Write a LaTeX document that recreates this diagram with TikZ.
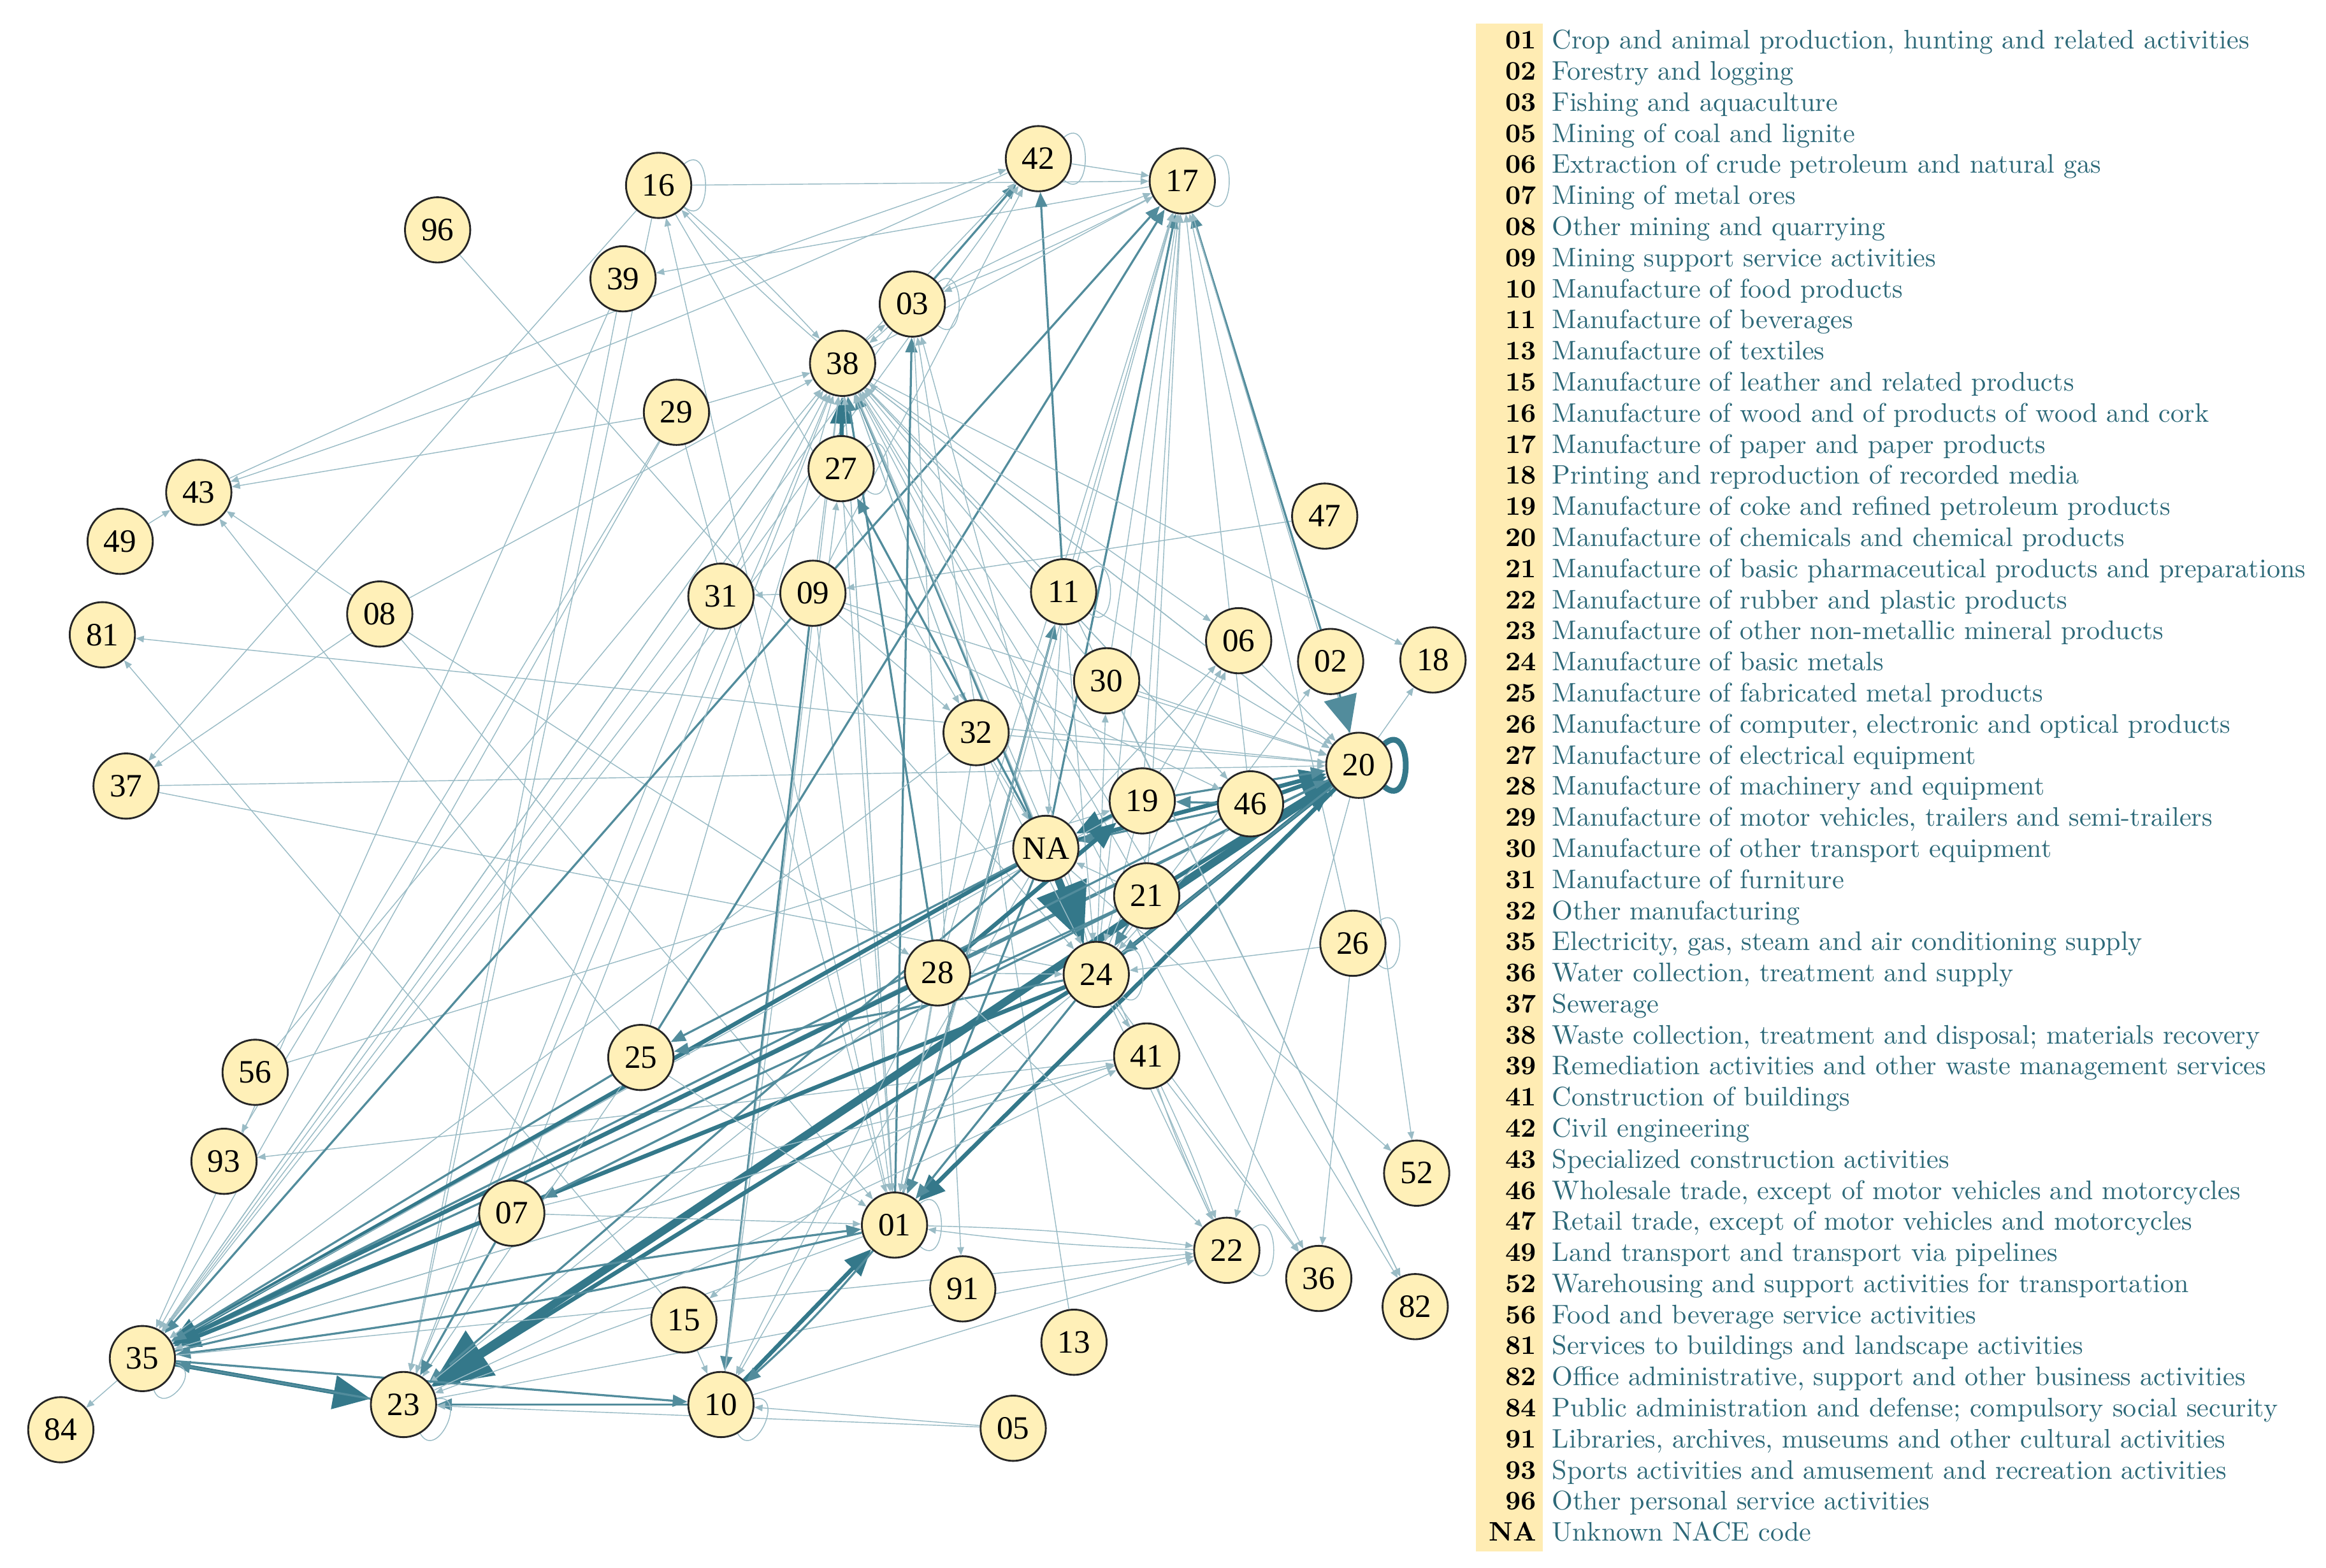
\documentclass[tikz,border=0pt]{standalone}
\usepackage{fontspec}
\newfontfamily\nodefont{Liberation Serif}
\usepackage{tikz}
\usetikzlibrary{positioning,arrows.meta,backgrounds}
\usepackage{xcolor}
\definecolor{nacefill}{RGB}{255,240,184}
\definecolor{stripe}{RGB}{255,236,179}
\definecolor{flow}{RGB}{52,120,138}
\definecolor{legtext}{RGB}{44,104,120}

\begin{document}
\begin{tikzpicture}[x=0.2mm,y=-0.2mm,
        nace/.style={circle,draw=black!85,line width=0.7pt,fill=nacefill,minimum size=8.8mm,inner sep=0pt,font=\nodefont\fontsize{12.5}{13}\selectfont},
        e1/.style={draw=flow!50,line width=0.35pt,-{Triangle[length=1.1mm,width=0.9mm]}},
        e2/.style={draw=flow!85,line width=0.8pt,-{Triangle[length=2mm,width=1.6mm]}},
        e3/.style={draw=flow,line width=1.6pt,-{Triangle[length=3.6mm,width=3mm]}},
        e4/.style={draw=flow,line width=3pt,-{Triangle[length=8mm,width=7mm]}},
        bigtip/.style={-{Triangle[length=5mm,width=4.5mm]}},
        ring/.style={draw=flow!50,line width=0.35pt,out=40,in=-40,looseness=2.2},
        code/.style={anchor=base east,inner sep=0pt,font=\fontsize{10.3}{12}\selectfont\bfseries,text=black},
        label/.style={anchor=base west,inner sep=0pt,font=\fontsize{10.3}{12}\selectfont,text=legtext}]
        \useasboundingbox (0,0) rectangle (1568,1057);

        \node [nace] (16) at (444,125) {16};
        \node [nace] (96) at (295,155) {96};
        \node [nace] (39) at (420,188) {39};
        \node [nace] (42) at (700,107) {42};
        \node [nace] (17) at (797,122) {17};
        \node [nace] (03) at (615,205) {03};
        \node [nace] (38) at (568,245) {38};
        \node [nace] (29) at (456,278) {29};
        \node [nace] (27) at (567,316) {27};
        \node [nace] (43) at (134,332) {43};
        \node [nace] (49) at (81,365) {49};
        \node [nace] (47) at (893,348) {47};
        \node [nace] (08) at (256,414) {08};
        \node [nace] (81) at (69,428) {81};
        \node [nace] (31) at (486,402) {31};
        \node [nace] (09) at (548,400) {09};
        \node [nace] (11) at (717,399) {11};
        \node [nace] (06) at (835,432) {06};
        \node [nace] (02) at (897,446) {02};
        \node [nace] (18) at (966,445) {18};
        \node [nace] (30) at (746,459) {30};
        \node [nace] (32) at (658,494) {32};
        \node [nace] (20) at (916,516) {20};
        \node [nace] (37) at (85,530) {37};
        \node [nace] (19) at (770,540) {19};
        \node [nace] (46) at (843,542) {46};
        \node [nace] (NA) at (705,572) {NA};
        \node [nace] (21) at (773,604) {21};
        \node [nace] (26) at (912,636) {26};
        \node [nace] (28) at (632,656) {28};
        \node [nace] (24) at (739,657) {24};
        \node [nace] (25) at (432,713) {25};
        \node [nace] (41) at (773,712) {41};
        \node [nace] (56) at (172,723) {56};
        \node [nace] (93) at (151,783) {93};
        \node [nace] (52) at (955,791) {52};
        \node [nace] (07) at (345,818) {07};
        \node [nace] (01) at (603,826) {01};
        \node [nace] (22) at (827,843) {22};
        \node [nace] (36) at (889,862) {36};
        \node [nace] (91) at (649,869) {91};
        \node [nace] (82) at (954,881) {82};
        \node [nace] (15) at (461,890) {15};
        \node [nace] (13) at (724,905) {13};
        \node [nace] (35) at (96,916) {35};
        \node [nace] (23) at (272,947) {23};
        \node [nace] (10) at (486,947) {10};
        \node [nace] (05) at (683,963) {05};
        \node [nace] (84) at (41,964) {84};

        \begin{scope}[on background layer]
        \draw[e1] (16) -- (17);
        \draw[e1] (42) -- (17);
        \draw[e1] (42) to[bend left=3] (43);
        \draw[e1] (43) to[bend left=3] (42);
        \draw[e1] (17) -- (39);
        \draw[e1] (29) -- (43);
        \draw[e1] (49) -- (43);
        \draw[e1] (08) -- (43);
        \draw[e1] (25) -- (43);
        \draw[e1] (16) -- (37);
        \draw[e1] (08) -- (37);
        \draw[e1] (37) -- (20);
        \draw[e1] (37) -- (24);
        \draw[e1] (20) -- (81);
        \draw[e1] (15) -- (81);
        \draw[e1] (08) -- (38);
        \draw[e1] (08) -- (28);
        \draw[e1] (08) -- (01);
        \draw[e1] (96) -- (24);
        \draw[e1] (56) -- (38);
        \draw[e1] (56) -- (19);
        \draw[e1] (41) -- (93);
        \draw[e1] (29) -- (93);
        \draw[e1] (16) -- (23);
        \draw[e1] (39) -- (23);
        \draw[e1] (01) -- (16);
        \draw[e1] (38) to[bend left=3] (16);
        \draw[e1] (16) to[bend left=3] (38);
        \draw[e1] (16) -- (32);
        \draw[e1] (29) -- (38);
        \draw[e1] (29) -- (35);
        \draw[e1] (29) -- (01);
        \draw[e1] (47) -- (09);
        \draw[e1] (09) -- (31);
        \draw[e1] (31) -- (38);
        \draw[e1] (31) -- (35);
        \draw[e1] (31) -- (23);
        \draw[e1] (39) -- (35);
        \draw[e1] (38) -- (35);
        \draw[e1] (27) -- (35);
        \draw[e2] (09) -- (35);
        \draw[e2] (09) -- (10);
        \draw[e2] (09) -- (17);
        \draw[e1] (09) -- (42);
        \draw[e1] (09) -- (38);
        \draw[e1] (09) -- (32);
        \draw[e1] (09) -- (01);
        \draw[e1] (09) -- (20);
        \draw[e2] (11) -- (42);
        \draw[e2] (03) -- (42);
        \draw[e1] (38) -- (42);
        \draw[e1] (31) -- (42);
        \draw[e1] (03) to[bend left=3] (17);
        \draw[e1] (17) to[bend left=3] (03);
        \draw[e1] (38) -- (17);
        \draw[e2] (02) -- (17);
        \draw[e2] (25) -- (17);
        \draw[e2] (NA) -- (17);
        \draw[e1] (24) -- (17);
        \draw[e1] (01) -- (17);
        \draw[e1] (28) -- (17);
        \draw[e1] (19) -- (17);
        \draw[e1] (21) -- (17);
        \draw[e1] (30) -- (17);
        \draw[e1] (20) -- (17);
        \draw[e1] (26) -- (17);
        \draw[e1] (11) -- (17);
        \draw[e1] (46) -- (17);
        \draw[e3] (27) -- (38);
        \draw[e2] (24) -- (38);
        \draw[e2] (28) -- (38);
        \draw[e1] (01) -- (38);
        \draw[e1] (10) -- (38);
        \draw[e1] (25) -- (38);
        \draw[e1] (23) -- (38);
        \draw[e1] (35) -- (38);
        \draw[e1] (19) -- (38);
        \draw[e1] (21) -- (38);
        \draw[e1] (46) -- (38);
        \draw[e1] (20) -- (38);
        \draw[e1] (32) -- (38);
        \draw[e1] (11) -- (38);
        \draw[e1] (30) -- (38);
        \draw[e1] (07) -- (38);
        \draw[e1] (22) -- (38);
        \draw[e1] (NA) -- (38);
        \draw[e1] (38) to[bend left=3] (03);
        \draw[e1] (03) to[bend left=3] (38);
        \draw[e1] (38) -- (06);
        \draw[e1] (38) -- (18);
        \draw[e1] (38) -- (82);
        \draw[e1] (38) -- (36);
        \draw[e1] (38) -- (32);
        \draw[e1] (38) -- (46);
        \draw[e1] (38) -- (20);
        \draw[e1] (38) -- (01);
        \draw[e2] (01) -- (03);
        \draw[e1] (13) -- (03);
        \draw[e1] (24) -- (03);
        \draw[e1] (03) -- (91);
        \draw[e1] (03) -- (35);
        \draw[e2] (NA) -- (27);
        \draw[e1] (27) -- (01);
        \draw[e1] (10) -- (27);
        \draw[e2,bigtip] (02) -- (20);
        \draw[e3] (24) -- (20);
        \draw[e3] (46) -- (20);
        \draw[e3] (21) -- (20);
        \draw[e3] (NA) -- (20);
        \draw[e2] (28) -- (20);
        \draw[e2] (19) -- (20);
        \draw[e1] (01) -- (20);
        \draw[e1] (23) -- (20);
        \draw[e1] (32) -- (20);
        \draw[e1] (11) -- (20);
        \draw[e1] (06) -- (20);
        \draw[e1] (30) -- (20);
        \draw[e1] (20) -- (18);
        \draw[e1] (20) -- (22);
        \draw[e1] (20) -- (52);
        \draw[e4] (20) -- (23);
        \draw[e3] (20) -- (01);
        \draw[e2] (20) -- (24);
        \draw[e2] (20) -- (35);
        \draw[e1] (24) -- (02);
        \draw[e3] (19) -- (NA);
        \draw[e4] (NA) -- (24);
        \draw[e3] (NA) -- (35);
        \draw[e2] (NA) -- (01);
        \draw[e2] (NA) -- (23);
        \draw[e2] (NA) -- (25);
        \draw[e1] (NA) -- (10);
        \draw[e1] (NA) -- (52);
        \draw[e1] (NA) -- (06);
        \draw[e1] (32) -- (NA);
        \draw[e1] (11) -- (NA);
        \draw[e2] (46) -- (NA);
        \draw[e1] (21) -- (NA);
        \draw[e3] (24) -- (35);
        \draw[e3] (24) -- (23);
        \draw[e2] (24) -- (01);
        \draw[e2] (24) -- (25);
        \draw[e1] (24) -- (41);
        \draw[e1] (24) -- (22);
        \draw[e1] (24) -- (36);
        \draw[e1] (24) -- (06);
        \draw[e1] (24) -- (30);
        \draw[e1] (24) -- (15);
        \draw[e2] (21) -- (24);
        \draw[e1] (19) -- (24);
        \draw[e1] (28) -- (24);
        \draw[e1] (46) -- (24);
        \draw[e1] (26) -- (24);
        \draw[e1] (11) -- (24);
        \draw[e1] (32) -- (24);
        \draw[e3] (28) -- (19);
        \draw[e2] (46) -- (19);
        \draw[e1] (19) -- (35);
        \draw[e1] (19) -- (06);
        \draw[e2] (46) -- (35);
        \draw[e2] (21) -- (35);
        \draw[e2] (21) -- (07);
        \draw[e3] (28) -- (35);
        \draw[e1] (28) -- (01);
        \draw[e1] (28) -- (10);
        \draw[e1] (28) -- (23);
        \draw[e1] (28) -- (22);
        \draw[e1] (09) -- (46);
        \draw[e2] (25) -- (35);
        \draw[e1] (25) -- (01);
        \draw[e1] (25) -- (23);
        \draw[e2] (07) -- (23);
        \draw[e1] (07) -- (41);
        \draw[e1] (07) -- (01);
        \draw[e3,bigtip] (35) -- (23);
        \draw[e2] (23) -- (35);
        \draw[e2] (10) -- (23);
        \draw[e2] (35) -- (10);
        \draw[e1] (35) -- (84);
        \draw[e2] (35) to[bend left=3] (01);
        \draw[e2] (01) to[bend left=3] (35);
        \draw[e1] (35) -- (22);
        \draw[e1] (35) -- (41);
        \draw[e1] (23) -- (22);
        \draw[e1] (23) -- (41);
        \draw[e3] (10) -- (01);
        \draw[e2] (01) to[bend left=4] (10);
        \draw[e1] (15) -- (10);
        \draw[e1] (10) -- (22);
        \draw[e1] (05) -- (23);
        \draw[e1] (05) -- (10);
        \draw[e2] (01) -- (11);
        \draw[e1] (01) to[bend left=3] (22);
        \draw[e1] (22) to[bend left=3] (01);
        \draw[e1] (01) -- (23);
        \draw[e1] (32) -- (01);
        \draw[e1] (11) -- (01);
        \draw[e1] (41) to[bend left=3] (22);
        \draw[e1] (41) to[bend right=3] (22);
        \draw[e1] (41) -- (36);
        \draw[e1] (41) -- (35);
        \draw[e1] (26) -- (36);
        \draw[e1] (30) -- (82);
        \draw[e1] (11) -- (82);
        \draw[e1] (32) -- (35);
        \draw[ring] (16) to (16);
        \draw[ring] (42) to (42);
        \draw[ring] (17) to (17);
        \draw[ring] (03) to (03);
        \draw[ring] (27) to (27);
        \draw[ring] (11) to (11);
        \draw[ring] (26) to (26);
        \draw[ring] (22) to (22);
        \draw[ring] (24) to (24);
        \draw[ring] (01) to (01);
        \draw[ring,out=10,in=-60] (10) to (10);
        \draw[ring,out=10,in=-60] (23) to (23);
        \draw[ring,out=-10,in=-70] (35) to (35);
        \draw[ring,draw=flow,line width=2.2pt] (20) to (20);
        \end{scope}

        \fill[stripe] (995,16) rectangle (1040,1046);
        \node[code] (k01) at (1036,33.0) {01};   \node[label] (l01) at (1046,33.0) {Crop and animal production, hunting and related activities};
        \node[code] (k02) at (1036,54.0) {02};   \node[label] (l02) at (1046,54.0) {Forestry and logging};
        \node[code] (k03) at (1036,74.9) {03};   \node[label] (l03) at (1046,74.9) {Fishing and aquaculture};
        \node[code] (k05) at (1036,95.9) {05};   \node[label] (l05) at (1046,95.9) {Mining of coal and lignite};
        \node[code] (k06) at (1036,116.8) {06};  \node[label] (l06) at (1046,116.8) {Extraction of crude petroleum and natural gas};
        \node[code] (k07) at (1036,137.8) {07};  \node[label] (l07) at (1046,137.8) {Mining of metal ores};
        \node[code] (k08) at (1036,158.8) {08};  \node[label] (l08) at (1046,158.8) {Other mining and quarrying};
        \node[code] (k09) at (1036,179.7) {09};  \node[label] (l09) at (1046,179.7) {Mining support service activities};
        \node[code] (k10) at (1036,200.7) {10};  \node[label] (l10) at (1046,200.7) {Manufacture of food products};
        \node[code] (k11) at (1036,221.6) {11};  \node[label] (l11) at (1046,221.6) {Manufacture of beverages};
        \node[code] (k13) at (1036,242.6) {13};  \node[label] (l13) at (1046,242.6) {Manufacture of textiles};
        \node[code] (k15) at (1036,263.6) {15};  \node[label] (l15) at (1046,263.6) {Manufacture of leather and related products};
        \node[code] (k16) at (1036,284.5) {16};  \node[label] (l16) at (1046,284.5) {Manufacture of wood and of products of wood and cork};
        \node[code] (k17) at (1036,305.5) {17};  \node[label] (l17) at (1046,305.5) {Manufacture of paper and paper products};
        \node[code] (k18) at (1036,326.4) {18};  \node[label] (l18) at (1046,326.4) {Printing and reproduction of recorded media};
        \node[code] (k19) at (1036,347.4) {19};  \node[label] (l19) at (1046,347.4) {Manufacture of coke and refined petroleum products};
        \node[code] (k20) at (1036,368.4) {20};  \node[label] (l20) at (1046,368.4) {Manufacture of chemicals and chemical products};
        \node[code] (k21) at (1036,389.3) {21};  \node[label] (l21) at (1046,389.3) {Manufacture of basic pharmaceutical products and preparations};
        \node[code] (k22) at (1036,410.3) {22};  \node[label] (l22) at (1046,410.3) {Manufacture of rubber and plastic products};
        \node[code] (k23) at (1036,431.2) {23};  \node[label] (l23) at (1046,431.2) {Manufacture of other non-metallic mineral products};
        \node[code] (k24) at (1036,452.2) {24};  \node[label] (l24) at (1046,452.2) {Manufacture of basic metals};
        \node[code] (k25) at (1036,473.2) {25};  \node[label] (l25) at (1046,473.2) {Manufacture of fabricated metal products};
        \node[code] (k26) at (1036,494.1) {26};  \node[label] (l26) at (1046,494.1) {Manufacture of computer, electronic and optical products};
        \node[code] (k27) at (1036,515.1) {27};  \node[label] (l27) at (1046,515.1) {Manufacture of electrical equipment};
        \node[code] (k28) at (1036,536.0) {28};  \node[label] (l28) at (1046,536.0) {Manufacture of machinery and equipment};
        \node[code] (k29) at (1036,557.0) {29};  \node[label] (l29) at (1046,557.0) {Manufacture of motor vehicles, trailers and semi-trailers};
        \node[code] (k30) at (1036,578.0) {30};  \node[label] (l30) at (1046,578.0) {Manufacture of other transport equipment};
        \node[code] (k31) at (1036,598.9) {31};  \node[label] (l31) at (1046,598.9) {Manufacture of furniture};
        \node[code] (k32) at (1036,619.9) {32};  \node[label] (l32) at (1046,619.9) {Other manufacturing};
        \node[code] (k35) at (1036,640.8) {35};  \node[label] (l35) at (1046,640.8) {Electricity, gas, steam and air conditioning supply};
        \node[code] (k36) at (1036,661.8) {36};  \node[label] (l36) at (1046,661.8) {Water collection, treatment and supply};
        \node[code] (k37) at (1036,682.8) {37};  \node[label] (l37) at (1046,682.8) {Sewerage};
        \node[code] (k38) at (1036,703.7) {38};  \node[label] (l38) at (1046,703.7) {Waste collection, treatment and disposal; materials recovery};
        \node[code] (k39) at (1036,724.7) {39};  \node[label] (l39) at (1046,724.7) {Remediation activities and other waste management services};
        \node[code] (k41) at (1036,745.6) {41};  \node[label] (l41) at (1046,745.6) {Construction of buildings};
        \node[code] (k42) at (1036,766.6) {42};  \node[label] (l42) at (1046,766.6) {Civil engineering};
        \node[code] (k43) at (1036,787.6) {43};  \node[label] (l43) at (1046,787.6) {Specialized construction activities};
        \node[code] (k46) at (1036,808.5) {46};  \node[label] (l46) at (1046,808.5) {Wholesale trade, except of motor vehicles and motorcycles};
        \node[code] (k47) at (1036,829.5) {47};  \node[label] (l47) at (1046,829.5) {Retail trade, except of motor vehicles and motorcycles};
        \node[code] (k49) at (1036,850.4) {49};  \node[label] (l49) at (1046,850.4) {Land transport and transport via pipelines};
        \node[code] (k52) at (1036,871.4) {52};  \node[label] (l52) at (1046,871.4) {Warehousing and support activities for transportation};
        \node[code] (k56) at (1036,892.4) {56};  \node[label] (l56) at (1046,892.4) {Food and beverage service activities};
        \node[code] (k81) at (1036,913.3) {81};  \node[label] (l81) at (1046,913.3) {Services to buildings and landscape activities};
        \node[code] (k82) at (1036,934.3) {82};  \node[label] (l82) at (1046,934.3) {Office administrative, support and other business activities};
        \node[code] (k84) at (1036,955.2) {84};  \node[label] (l84) at (1046,955.2) {Public administration and defense; compulsory social security};
        \node[code] (k91) at (1036,976.2) {91};  \node[label] (l91) at (1046,976.2) {Libraries, archives, museums and other cultural activities};
        \node[code] (k93) at (1036,997.2) {93};  \node[label] (l93) at (1046,997.2) {Sports activities and amusement and recreation activities};
        \node[code] (k96) at (1036,1018.1) {96}; \node[label] (l96) at (1046,1018.1) {Other personal service activities};
        \node[code] (kNA) at (1036,1039.1) {NA}; \node[label] (lNA) at (1046,1039.1) {Unknown NACE code};
    \end{tikzpicture}
\end{document}
